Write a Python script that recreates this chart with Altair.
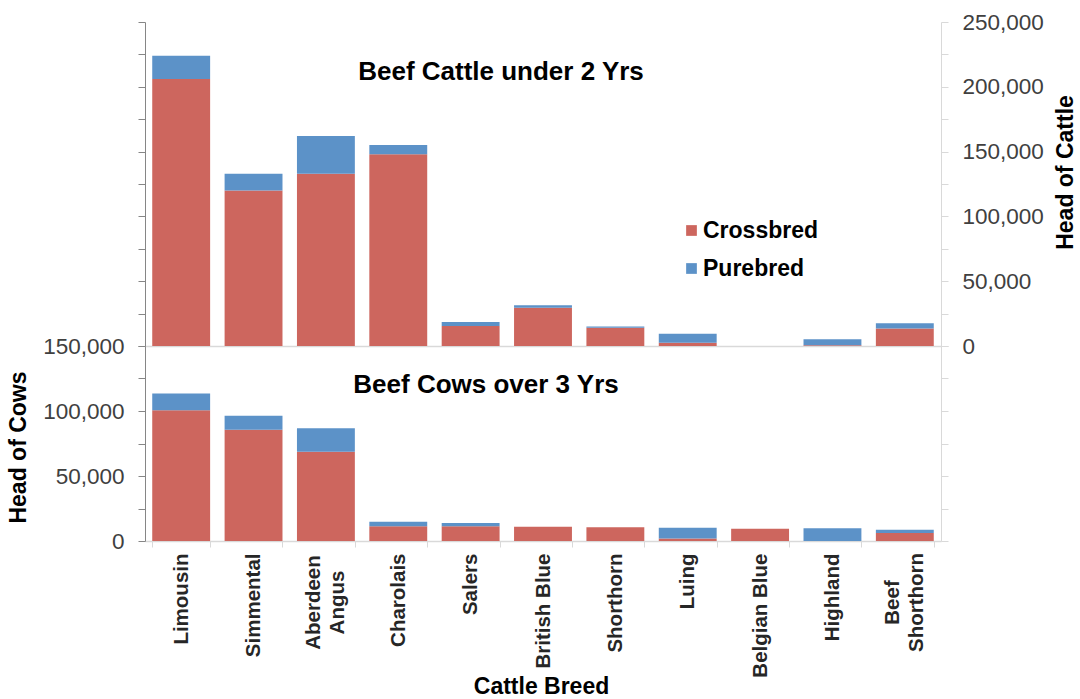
import altair as alt
import pandas as pd

# Breeds in display order, and head counts per group
breeds = ["Limousin", "Simmental", "Aberdeen Angus", "Charolais", "Salers",
          "British Blue", "Shorthorn", "Luing", "Belgian Blue", "Highland",
          "Beef Shorthorn"]

young_crossbred = [206000, 120000, 133000, 148000, 15500, 29500, 14000, 2500, 0, 500, 13500]
young_purebred = [18000, 13000, 29000, 7000, 3000, 2000, 1000, 7000, 0, 4700, 4000]

cow_crossbred = [100500, 85600, 68700, 11300, 11300, 11000, 10500, 2000, 9500, 0, 6200]
cow_purebred = [13000, 10800, 18000, 3500, 2500, 0, 0, 8200, 0, 9800, 2500]

breed_types = ["Crossbred", "Purebred"]
type_colors = ["#CD665E", "#5C92C8"]

young_ticks = list(range(0, 250001, 25000))
cow_ticks = list(range(0, 150001, 25000))

FONT = "Liberation Sans"
PLOT_W = 796
TOP_H = 324
BOT_H = 195
LIGHT = "#D9D9D9"
DARK_AXIS = "#868686"


def long_table(cross, pure):
    rows = []
    for b, c, p in zip(breeds, cross, pure):
        rows.append({"breed": b, "type": "Crossbred", "head": c, "rank": 0})
        rows.append({"breed": b, "type": "Purebred", "head": p, "rank": 1})
    return pd.DataFrame(rows)


young_df = long_table(young_crossbred, young_purebred)
cow_df = long_table(cow_crossbred, cow_purebred)

band = alt.Scale(paddingInner=0.2, paddingOuter=0.1)
label_every_50k = "datum.value % 50000 == 0 ? format(datum.value, ',') : ''"

# Breed names that are written on two lines under the axis
two_line = {
    "Aberdeen Angus": ["Aberdeen", "Angus"],
    "Beef Shorthorn": ["Beef", "Shorthorn"],
}
breed_label_expr = ""
for name, lines in two_line.items():
    breed_label_expr += f"datum.label == '{name}' ? ['{lines[0]}', '{lines[1]}'] : "
breed_label_expr += "datum.label"
is_two_line = " || ".join(f"datum.value == '{n}'" for n in two_line)


def stacked(df, ymax, x_axis, y_axis, legend, opacity=1.0):
    return alt.Chart(df).mark_bar(opacity=opacity).encode(
        x=alt.X("breed:N", sort=breeds, scale=band, axis=x_axis),
        y=alt.Y("head:Q", stack="zero",
                scale=alt.Scale(domain=[0, ymax], nice=False), axis=y_axis),
        color=alt.Color("type:N",
                        scale=alt.Scale(domain=breed_types, range=type_colors),
                        legend=legend),
        order=alt.Order("rank:Q"),
    )


def heading(text, x, y):
    return alt.Chart(pd.DataFrame({"t": [text]})).mark_text(
        font=FONT, fontSize=26, fontWeight="bold", color="black",
        align="center", baseline="alphabetic",
    ).encode(text="t:N", x=alt.value(x), y=alt.value(y))


# ---- Upper panel: cattle under two years ----
top_x_axis = alt.Axis(title=None, labels=False, ticks=False, domain=True,
                      domainColor=LIGHT, domainWidth=1.5)

top_right_axis = alt.Axis(
    orient="right", values=young_ticks, labelExpr=label_every_50k,
    title="Head of Cattle", titleAngle=270, titleAlign="center",
    titleBaseline="middle", titleX=124, titleY=150,
    domainColor=LIGHT, tickColor=LIGHT, tickSize=7, labelPadding=14,
    grid=False,
)
top_left_axis = alt.Axis(
    orient="left", values=young_ticks, labels=False, title=None,
    domainColor=DARK_AXIS, tickColor=DARK_AXIS, tickSize=7, grid=False,
)

top_legend = alt.Legend(
    title=None, orient="none", legendX=535, legendY=197, padding=0,
    symbolType="square", symbolSize=115, symbolStrokeWidth=0,
    labelFont=FONT, labelFontSize=23, labelFontWeight="bold",
    labelColor="black", labelOffset=0, rowPadding=14,
)

top = alt.layer(
    stacked(young_df, 250000, top_x_axis, top_right_axis, top_legend),
    stacked(young_df, 250000, top_x_axis, top_left_axis, None, opacity=0),
    heading("Beef Cattle under 2 Yrs", 356, 58),
).resolve_axis(y="independent").properties(width=PLOT_W, height=TOP_H)

# ---- Lower panel: cows over three years ----
bottom_x_axis = alt.Axis(
    title="Cattle Breed", titleFont=FONT, titleFontSize=23, titleFontWeight="bold",
    titleColor="black", titleX=396, titleY=152, titleBaseline="alphabetic",
    labelExpr=breed_label_expr, labelAngle=270,
    labelAlign={"condition": {"test": is_two_line, "value": "center"}, "value": "right"},
    labelPadding={"condition": {"test": is_two_line, "value": 55}, "value": 6},
    labelOffset={"condition": {"test": is_two_line, "value": -12}, "value": 0},
    labelBaseline="middle", labelFontWeight="bold", labelFontSize=20.5,
    labelColor="#262626", labelLineHeight=24,
    tickBand="extent", tickColor=LIGHT, tickSize=6,
    domainColor=LIGHT, domainWidth=1.5,
)
bottom_left_axis = alt.Axis(
    orient="left", values=cow_ticks, labelExpr=label_every_50k,
    title="Head of Cows", titleAngle=270, titleAlign="center",
    titleBaseline="middle", titleX=-127, titleY=101,
    domainColor=DARK_AXIS, tickColor=DARK_AXIS, tickSize=7, labelPadding=14,
    grid=False,
)
bottom_right_axis = alt.Axis(
    orient="right", values=cow_ticks, labels=False, title=None,
    domainColor=LIGHT, tickColor=LIGHT, tickSize=7, grid=False,
)

bottom = alt.layer(
    stacked(cow_df, 150000, bottom_x_axis, bottom_left_axis, None),
    stacked(cow_df, 150000, bottom_x_axis, bottom_right_axis, None, opacity=0),
    heading("Beef Cows over 3 Yrs", 341, 47),
).resolve_axis(y="independent").properties(width=PLOT_W, height=BOT_H)

chart = alt.vconcat(top, bottom, spacing=0, bounds="flush").resolve_legend(
    color="independent"
).properties(
    padding={"left": 7, "top": 11, "right": 0, "bottom": 0},
).configure_view(stroke=None).configure_axis(
    labelFont=FONT, labelFontSize=22.5, labelColor="#404040",
    titleFont=FONT, titleFontSize=23, titleFontWeight="bold", titleColor="black",
)

chart.save("out.html", embed_options={"renderer": "svg", "actions": False})
